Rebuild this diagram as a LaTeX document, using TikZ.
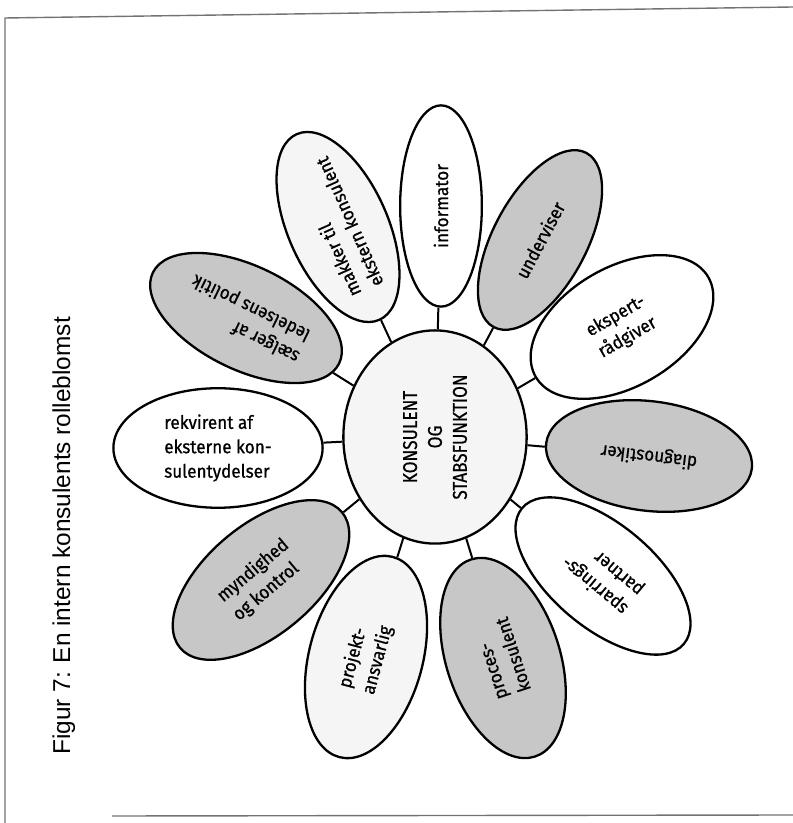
\documentclass[tikz,border=0pt]{standalone}
\usepackage{fontspec}
\setmainfont{Fira Sans}
\newfontfamily\titlefont{Liberation Sans}
\newfontfamily\petalfont[FakeStretch=0.93, FakeBold=0.8]{Fira Sans}
\newfontfamily\hubfont[FakeStretch=0.86, FakeBold=0.6]{Fira Sans}
\usetikzlibrary{shapes.geometric}

\begin{document}
\begin{tikzpicture}[x=1bp,y=1bp,
  petal/.style={ellipse, draw, line width=2.3bp, inner sep=0pt, align=left,
                font=\petalfont\fontsize{18.5}{24.5}\selectfont},
  shaded/.style={fill=black!22},
  faint/.style={fill=black!4},
  plain/.style={fill=white},
  stem/.style={line width=2bp},
  frameline/.style={draw=black!55, line width=1.4bp}]
\useasboundingbox (0,0) rectangle (793,823);

% scanned page frame
\draw[frameline] (5,0) -- (5,805) -- (793,816);
\draw[frameline] (112,7) -- (793,8);

% caption along the left edge
\node[rotate=90, anchor=base, font=\titlefont\fontsize{24.5}{28}\selectfont] (title)
  at (70,287) {Figur 7: En intern konsulents rolleblomst};

% centre of the flower
\node[petal, faint, rotate=90, minimum width=214, minimum height=184, align=center,
      font=\hubfont\fontsize{20}{25}\selectfont] (hub) at (435,386)
  {KONSULENT\\OG\\STABSFUNKTION};

% petals (rotation follows the reading direction of each label)
\node[petal, plain,  rotate=90,  minimum width=202, minimum height=82]  (informator) at (441,617) {informator};
\node[petal, shaded, rotate=62,  minimum width=198, minimum height=94]  (underviser) at (540,583) {underviser};
\node[petal, plain,  rotate=30,  minimum width=200, minimum height=120] (ekspert)    at (622,496) {ekspert-\\rådgiver};
\node[petal, shaded, rotate=173, minimum width=208, minimum height=110] (diagnost)   at (649,367) {diagnostiker};
\node[petal, plain,  rotate=140, minimum width=212, minimum height=104] (sparring)   at (603,247) {sparrings-\\partner};
\node[petal, shaded, rotate=108, minimum width=208, minimum height=114] (proces)     at (503,165) {proces-\\konsulent};
\node[petal, faint,  rotate=75,  minimum width=208, minimum height=114] (projekt)    at (366,166) {projekt-\\ansvarlig};
\node[petal, shaded, rotate=40,  minimum width=212, minimum height=110] (myndighed)  at (261,243) {myndighed\\og kontrol};
\node[petal, plain,  rotate=0,   minimum width=210, minimum height=120] (rekvirent)  at (218,375) {rekvirent af\\eksterne kon-\\sulentydelser};
\node[petal, shaded, rotate=154, minimum width=208, minimum height=104] (saelger)    at (246,505) {sælger af\\ledelsens politik};
\node[petal, faint,  rotate=114, minimum width=204, minimum height=100] (makker)     at (338,596) {makker til\\ekstern konsulent};

% stems joining the petals to the centre
\foreach \p in {informator,underviser,ekspert,diagnost,sparring,proces,
                projekt,myndighed,rekvirent,saelger,makker}
  \draw[stem] (hub) -- (\p);
\end{tikzpicture}
\end{document}
